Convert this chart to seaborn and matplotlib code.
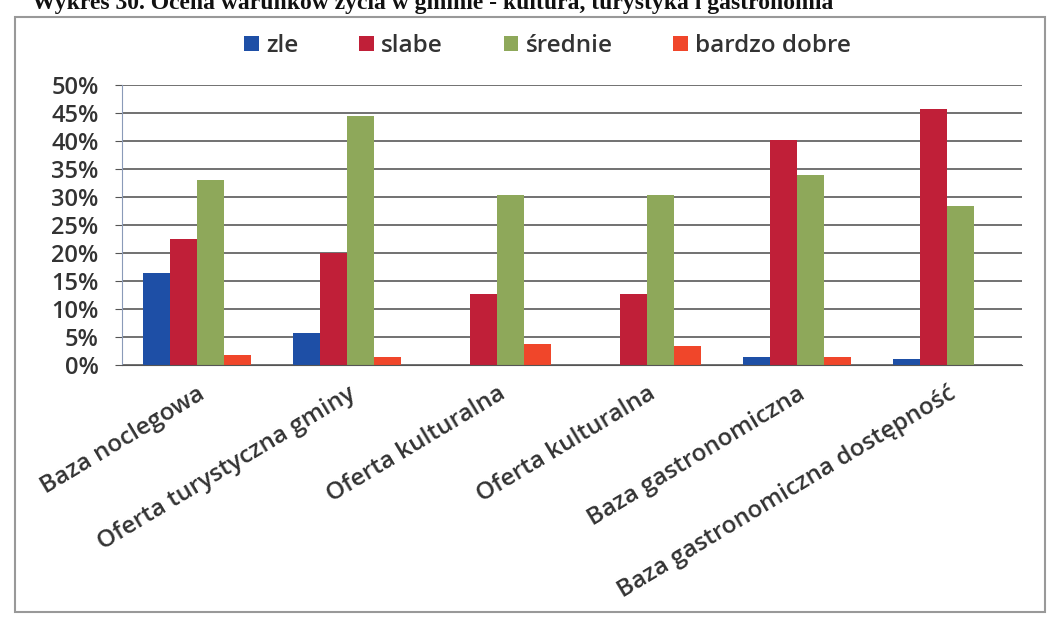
import pandas as pd
import numpy as np
import matplotlib
matplotlib.use("Agg")
import matplotlib.pyplot as plt
import seaborn as sns
from matplotlib.patches import Rectangle
from matplotlib.ticker import FuncFormatter, FixedLocator

# %%
categories = ["Baza noclegowa", "Oferta turystyczna gminy", "Oferta kulturalna",
              "Oferta kulturalna", "Baza gastronomiczna",
              "Baza gastronomiczna dostępność"]
series = ["zle", "slabe", "średnie", "bardzo dobre"]
zle = [16.5, 5.7, 0.0, 0.0, 1.5, 1.2]
slabe = [22.5, 20.0, 12.8, 12.8, 40.3, 45.7]
srednie = [33.1, 44.6, 30.4, 30.4, 34.0, 28.4]
bardzo_dobre = [1.8, 1.5, 3.8, 3.5, 1.4, 0.0]
colors = ["#1E4FA6", "#C01F38", "#8EA85A", "#F0462A"]

# %%
# categories repeat, so use positions as x keys
rows = []
for i, c in enumerate(categories):
    for s, vals in zip(series, [zle, slabe, srednie, bardzo_dobre]):
        rows.append({"pos": i, "seria": s, "val": vals[i]})
df = pd.DataFrame(rows)

sns.set_style("white")
plt.rcParams['font.family'] = ['Open Sans', 'DejaVu Sans']

fig = plt.figure(figsize=(10.53, 6.18), dpi=100)
ax = fig.add_axes([0.116, 0.409, 0.855, 0.453])

sns.barplot(data=df, x="pos", y="val", hue="seria", hue_order=series,
            palette=colors, width=0.72, gap=0, saturation=1,
            edgecolor="none", ax=ax, legend=True)

ax.set_ylim(0, 50)
ax.set_xlim(-0.5, len(categories) - 0.5)
ax.yaxis.set_major_locator(FixedLocator(np.arange(0, 51, 5)))
ax.yaxis.set_major_formatter(FuncFormatter(lambda v, p: f"{int(v)}%"))
ax.grid(axis="y", color="#4a4a4a", linewidth=1.1)
ax.set_axisbelow(True)
ax.set_xlabel("")
ax.set_ylabel("")

for side in ["top", "right"]:
    ax.spines[side].set_visible(False)
ax.spines["left"].set_color("#8a9ab8")
ax.spines["bottom"].set_color("#555555")

ax.set_xticks(range(len(categories)))
ax.set_xticklabels(categories, rotation=31, ha="right", rotation_mode="anchor",
                   fontsize=17.5, fontweight="semibold", color="#333333")
ax.tick_params(axis="x", length=0, pad=12)
ax.set_xticks(np.arange(-0.5, len(categories), 1), minor=True)
ax.tick_params(axis="x", which="minor", length=5, color="#777777")
ax.tick_params(axis="y", length=5, color="#555555", left=True, pad=12)
for t in ax.get_yticklabels():
    t.set_fontsize(17)
    t.set_fontweight("semibold")
    t.set_color("#333333")

handles, labels = ax.get_legend_handles_labels()
ax.legend_.remove()
fig.legend(handles, labels, loc="center", bbox_to_anchor=(0.52, 0.925),
           ncol=4, frameon=False, handlelength=0.6, handleheight=0.6,
           handletextpad=0.3, columnspacing=2.5,
           prop={"size": 17.5, "weight": "semibold"}, labelcolor="#333333")

# frame of the scanned chart
fig.patches.append(Rectangle((0.014, 0.01), 0.978, 0.962, transform=fig.transFigure,
                             fill=False, edgecolor="#999999", linewidth=1.5))

fig.text(0.03, 0.995, "Wykres 30. Ocena warunków życia w gminie - kultura, turystyka i gastronomia",
         fontsize=17, fontweight="bold", family="Liberation Serif", va="center",
         ha="left", color="#111111")

fig.savefig("out.png", dpi=100)
